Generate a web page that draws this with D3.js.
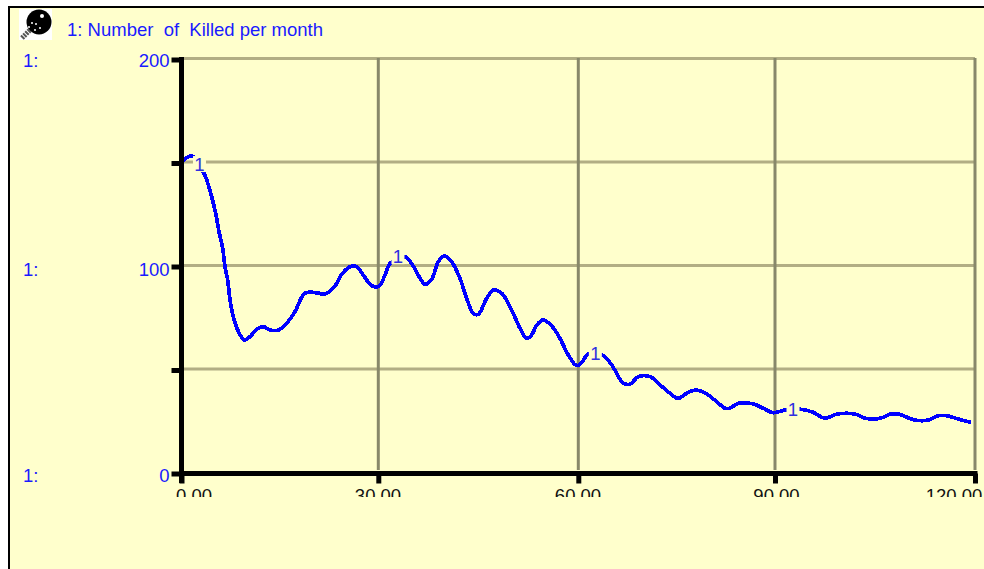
<!DOCTYPE html>
<html>
<head>
<meta charset="utf-8">
<script src="https://cdn.jsdelivr.net/npm/d3@7"></script>
<style>
    html, body { margin: 0; padding: 0; background: #fff; overflow: hidden; }
    svg { display: block; }
    text { font-family: "Liberation Sans", Arial, sans-serif; font-size: 18.5px; }
    .blue { fill: #1a1aff; }
</style>
</head>
<body>
<script>
// months and killed per month
var months = [0.27, 1.55, 3.43, 3.93, 4.6, 5.21, 5.72, 6.28, 6.63, 7.04, 7.39, 7.9, 8.57, 9.57, 10.44, 11.46, 12.47, 13.49, 14.76,
    16.04, 17.3, 18.82, 20.6, 21.87, 23.4, 24.42, 25.69, 26.71, 27.71, 29, 30.15, 31, 31.86,
    34, 35.25, 36.26, 37, 38, 39, 39.9, 41, 42.25, 43.26, 44.25, 45, 46.26, 47.25, 48.5, 50, 51.26, 52.26, 53, 53.76, 54.75,
    56, 57.25, 58.5, 59.76, 60.5, 61.5,
    63.7, 65.1, 66.87, 67.9, 69.16, 70.94, 72.47, 74, 75.2, 76.5, 77.8, 79.3, 80.8, 82.4, 83.1, 84.4, 86.7, 88.2, 89.7, 91.6,
    93.9, 95.7, 97.5, 99.3, 102, 103.5, 105.8, 107.3, 108.5, 111, 113, 114.5, 115.8, 117.5, 119.4];
var killed = [151.1, 153.5, 145, 141, 133.7, 125.7, 116.8, 108.8, 99.9, 93.5, 83.9, 75.7, 69.3, 64.5, 66.1, 69.7, 70.9, 69.3, 69.3,
    72.6, 78.2, 87.1, 87.3, 86.7, 90.6, 96.2, 99.9, 99.9, 95.9, 90.7, 90.6, 95.9, 101.8,
    104.7, 100.2, 94.3, 91.4, 93.8, 102.3, 105.1, 102.3, 94.3, 84.6, 77.4, 76.9, 84.6, 88.6, 87.1, 79, 70.1, 65.3, 66.9, 71.7, 74.2,
    71.3, 65.3, 57.2, 52.1, 53.5, 57.7,
    57.2, 52.4, 43.6, 43.2, 46.8, 46.8, 42.8, 38.7, 36.3, 38.7, 40.3, 39, 35.5, 31.5, 31.5, 33.9, 33.6, 31.5, 29.4, 30.7,
    31, 29.6, 26.7, 28.7, 28.7, 26.7, 26.7, 28.7, 28.7, 25.8, 25.8, 27.9, 27.9, 26.3, 24.7];

var xTicks = [0, 30, 60, 90, 120];
var xTickLabels = ['0.00', '30.00', '60.00', '90.00', '120.00'];
var yTicks = [0, 50, 100, 150, 200];
var yLabelled = [0, 100, 200];
// where the inline "1" markers sit along the line
var markerMonths = [2.74, 32.95, 62.6, 92.7];
var markerValues = [149.5, 105, 58, 30.9];

var width = 984, height = 569;

var svg = d3.select('body').append('svg')
    .attr('width', width)
    .attr('height', height);

// frame
svg.append('rect').attr('x', 8).attr('y', 6).attr('width', width).attr('height', height)
    .attr('fill', '#000');
svg.append('rect').attr('x', 10).attr('y', 8).attr('width', width).attr('height', height)
    .attr('fill', '#ffffcc');

var x = d3.scaleLinear().domain(xTicks).range([181.5, 378.3, 578.3, 775, 975]);
var y = d3.scaleLinear().domain([0, 200]).range([473.5, 59.5]);

// grid
svg.append('g').selectAll('line')
    .data(yTicks.slice(1))
    .enter()
    .append('line')
    .attr('x1', 184).attr('x2', 975)
    .attr('y1', function (d) { return y(d) - 1 })
    .attr('y2', function (d) { return y(d) - 1 })
    .attr('stroke', '#b2ae84')
    .attr('stroke-width', 3);

svg.append('g').selectAll('line')
    .data(xTicks.slice(1))
    .enter()
    .append('line')
    .attr('x1', function (d) { return x(d) }).attr('x2', function (d) { return x(d) })
    .attr('y1', 58).attr('y2', 470)
    .attr('stroke', '#88886a')
    .attr('stroke-width', 3);

// series
var line = d3.line()
    .x(function (d, i) { return x(months[i]) })
    .y(function (d) { return y(d) })
    .curve(d3.curveCatmullRom);

svg.append('path')
    .datum(killed)
    .attr('d', line)
    .attr('fill', 'none')
    .attr('stroke', '#0000ff')
    .attr('stroke-width', 3.7)
    .attr('shape-rendering', 'crispEdges');

// inline markers knock out the line and grid behind them
var markers = svg.append('g').selectAll('g')
    .data(markerMonths)
    .enter()
    .append('g')
    .attr('transform', function (d, i) {
        return 'translate(' + x(d) + ',' + y(markerValues[i]) + ')'
    });
markers.append('rect')
    .attr('x', -6.5).attr('y', -8).attr('width', 13).attr('height', 16)
    .attr('fill', '#ffffcc');
markers.append('text')
    .attr('text-anchor', 'middle')
    .attr('y', 6.5)
    .attr('fill', '#2f2fe0')
    .text('1');

// y axis
var labelDy = {0: 8, 100: 9, 200: 7};
var yAxis = d3.axisLeft(y)
    .tickValues(yTicks)
    .tickSize(10)
    .tickPadding(2)
    .tickFormat(function (d) { return yLabelled.indexOf(d) >= 0 ? d : '' });
var gy = svg.append('g').attr('transform', 'translate(181.5,0)').call(yAxis);
gy.select('.domain').remove();
gy.selectAll('.tick line').attr('stroke', '#000').attr('stroke-width', 5);
gy.selectAll('.tick text')
    .attr('class', 'blue')
    .attr('dy', null)
    .attr('y', function (d) { return labelDy[d] || 0 })
    .style('font-family', null)
    .style('font-size', null);
gy.attr('font-size', null).attr('font-family', null);
svg.append('line').attr('x1', 181.5).attr('x2', 181.5).attr('y1', 57).attr('y2', 483)
    .attr('stroke', '#000').attr('stroke-width', 5);

// x axis labels are cut off by the plot window in the original
svg.append('clipPath').attr('id', 'xclip')
    .append('rect').attr('x', 0).attr('y', 476).attr('width', width).attr('height', 21);

var xAxis = d3.axisBottom(x)
    .tickValues(xTicks)
    .tickSize(10)
    .tickFormat(function (d, i) { return xTickLabels[i] });
var gx = svg.append('g').attr('transform', 'translate(0,473.5)').call(xAxis);
gx.select('.domain').remove();
gx.selectAll('.tick line').attr('stroke', '#000').attr('stroke-width', 5);
gx.selectAll('.tick text').remove();
svg.append('line').attr('x1', 179).attr('x2', 977.5).attr('y1', 473.5).attr('y2', 473.5)
    .attr('stroke', '#000').attr('stroke-width', 5);

var labelX = [194, 378, 578, 776.5, 954];
svg.append('g').attr('clip-path', 'url(#xclip)')
    .selectAll('text')
    .data(xTickLabels)
    .enter()
    .append('text')
    .attr('x', function (d, i) { return labelX[i] })
    .attr('y', 501.5)
    .attr('text-anchor', 'middle')
    .attr('fill', '#111')
    .text(function (d) { return d });

// "1:" scale labels down the left
svg.append('g').selectAll('text')
    .data(yLabelled)
    .enter()
    .append('text')
    .attr('class', 'blue')
    .attr('x', 23)
    .attr('y', function (d) { return y(d) + labelDy[d] })
    .text('1:');

// legend
svg.append('text')
    .attr('class', 'blue')
    .attr('x', 67)
    .attr('y', 36)
    .style('white-space', 'pre')
    .text('1: Number  of  Killed per month');

// magnifier icon
var icon = svg.append('g').attr('transform', 'translate(19,9)');
icon.append('rect').attr('width', 33).attr('height', 31).attr('fill', '#fff');
icon.append('line').attr('x1', 3).attr('y1', 29).attr('x2', 13).attr('y2', 19)
    .attr('stroke', '#555').attr('stroke-width', 5).attr('stroke-dasharray', '2 1');
icon.append('circle').attr('cx', 20).attr('cy', 13).attr('r', 12.5).attr('fill', '#000');
icon.selectAll('.spark')
    .data([[23, 7, 2], [13, 14, 1], [17, 15, 1], [10, 18, 1], [16, 21, 1], [21, 19, 1]])
    .enter()
    .append('circle')
    .attr('class', 'spark')
    .attr('cx', function (d) { return d[0] })
    .attr('cy', function (d) { return d[1] })
    .attr('r', function (d) { return d[2] })
    .attr('fill', '#fff');
</script>
</body>
</html>
